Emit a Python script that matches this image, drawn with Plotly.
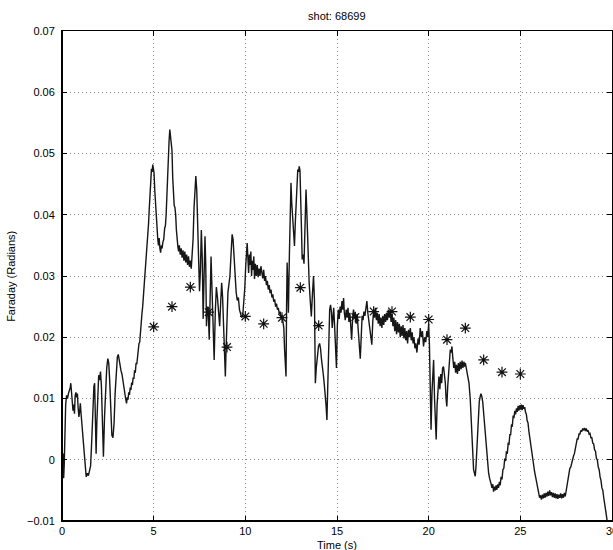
import plotly.graph_objects as go

# Faraday rotation trace, shot 68699
time_s = [
    0.00, 0.03, 0.06, 0.09, 0.12, 0.15, 0.20, 0.25, 0.30, 0.35, 0.40, 0.45, 0.48, 0.52, 0.56, 0.60,
    0.64, 0.68, 0.72, 0.76, 0.80, 0.84, 0.88, 0.92, 0.96, 1.00, 1.04, 1.08, 1.15, 1.22, 1.28, 1.32,
    1.38, 1.44, 1.50, 1.56, 1.62, 1.68, 1.74, 1.78, 1.82, 1.86, 1.90, 1.95, 2.00, 2.05, 2.10, 2.15,
    2.20, 2.26, 2.32, 2.38, 2.44, 2.50, 2.55, 2.60, 2.66, 2.72, 2.78, 2.84, 2.90, 2.96, 3.02, 3.07,
    3.12, 3.17, 3.22, 3.27, 3.32, 3.37, 3.42, 3.47, 3.52, 3.56, 3.60, 3.64, 3.68, 3.72, 3.76, 3.80,
    3.84, 3.88, 3.92, 3.96, 4.00, 4.04, 4.08, 4.12, 4.16, 4.20, 4.24, 4.28, 4.32, 4.36, 4.40, 4.44,
    4.48, 4.52, 4.56, 4.60, 4.64, 4.68, 4.72, 4.76, 4.80, 4.84,
    4.88, 4.92, 4.95, 4.98, 5.02, 5.06, 5.10, 5.14, 5.18, 5.22, 5.26, 5.30, 5.34, 5.38, 5.42, 5.46,
    5.50, 5.55, 5.60, 5.64, 5.68, 5.72, 5.76, 5.80, 5.84, 5.88, 5.92, 5.96, 6.00, 6.04, 6.08, 6.12,
    6.16, 6.20, 6.24, 6.28, 6.32, 6.36, 6.40, 6.45, 6.50, 6.55, 6.60, 6.65, 6.70, 6.75, 6.80, 6.85,
    6.90, 6.95, 7.00, 7.05, 7.10, 7.15, 7.20, 7.25, 7.30, 7.35, 7.40, 7.45, 7.50, 7.55, 7.60, 7.65,
    7.70, 7.75, 7.80, 7.84, 7.88, 7.93, 7.98, 8.03, 8.08, 8.13, 8.18, 8.24, 8.30, 8.36, 8.42, 8.48,
    8.55, 8.60, 8.66, 8.71, 8.76, 8.82, 8.87, 8.91, 8.95, 9.00, 9.05, 9.10, 9.16, 9.22, 9.28, 9.33,
    9.38, 9.44, 9.50, 9.56, 9.62, 9.68, 9.74, 9.80, 9.86, 9.92, 9.97, 10.02, 10.06, 10.10, 10.14, 10.18,
    10.22, 10.26, 10.30, 10.34, 10.38, 10.42, 10.46, 10.50, 10.55, 10.60, 10.65, 10.70, 10.75, 10.80, 10.85, 10.90,
    10.95, 11.00, 11.05, 11.10, 11.15, 11.20, 11.25, 11.30, 11.35, 11.40, 11.45, 11.50, 11.55, 11.60, 11.65, 11.70,
    11.75, 11.80, 11.85, 11.90, 11.95, 12.00, 12.05, 12.10, 12.14, 12.18, 12.22, 12.25, 12.28, 12.32, 12.35, 12.40,
    12.45, 12.49, 12.53, 12.57, 12.62, 12.68, 12.73, 12.78, 12.82, 12.86, 12.90, 12.94, 12.98, 13.02, 13.06, 13.10,
    13.15, 13.20, 13.26, 13.31, 13.36, 13.42, 13.48, 13.54, 13.60, 13.66, 13.72, 13.77, 13.82, 13.87, 13.93, 13.99,
    14.05, 14.10, 14.15, 14.20, 14.25, 14.30, 14.35, 14.40, 14.45, 14.50, 14.55, 14.60, 14.65, 14.70, 14.74, 14.78,
    14.82, 14.86, 14.92, 14.97, 15.02, 15.07, 15.12, 15.17, 15.22, 15.27, 15.32, 15.36, 15.40, 15.45, 15.50, 15.55,
    15.60, 15.65, 15.70, 15.75, 15.80, 15.85, 15.90, 15.95, 16.00, 16.05, 16.10, 16.15, 16.20, 16.27, 16.32, 16.37,
    16.42, 16.47, 16.52, 16.58, 16.63, 16.68, 16.73, 16.78, 16.84, 16.90, 16.95, 17.00, 17.05, 17.10, 17.15, 17.20,
    17.25, 17.30, 17.35, 17.40, 17.45, 17.50, 17.55, 17.60, 17.65, 17.70, 17.75, 17.80, 17.85, 17.90, 17.95, 18.00,
    18.05, 18.10, 18.15, 18.20, 18.25, 18.30, 18.35, 18.40, 18.45, 18.50, 18.55, 18.60, 18.65, 18.70, 18.75, 18.80,
    18.85, 18.90, 18.95, 19.00, 19.05, 19.10, 19.15, 19.20, 19.25, 19.30, 19.36, 19.42, 19.48, 19.54, 19.60, 19.66,
    19.72, 19.78, 19.84, 19.90, 19.95, 20.00, 20.04, 20.08, 20.13, 20.18, 20.23, 20.27, 20.32, 20.37, 20.41, 20.46,
    20.51, 20.56, 20.61, 20.66, 20.71, 20.76, 20.81, 20.86, 20.91, 20.95, 20.99, 21.04, 21.09, 21.14, 21.18, 21.23,
    21.27, 21.32, 21.37, 21.42, 21.47, 21.52, 21.57, 21.62, 21.67, 21.72, 21.77, 21.82, 21.87, 21.92, 21.97, 22.00,
    22.05, 22.10, 22.15, 22.20,
    22.27, 22.32, 22.36, 22.41, 22.45, 22.50, 22.54, 22.58, 22.63, 22.67, 22.72, 22.76, 22.81, 22.85, 22.90, 22.95,
    23.00, 23.05, 23.09, 23.14, 23.18, 23.23, 23.27, 23.32, 23.36, 23.41, 23.45, 23.50, 23.54, 23.59, 23.63, 23.68,
    23.72, 23.77, 23.81, 23.86, 23.90, 23.95, 24.00, 24.05, 24.10, 24.15, 24.20, 24.24, 24.29, 24.34, 24.38, 24.43,
    24.47, 24.52, 24.56, 24.61, 24.65, 24.70, 24.74, 24.79, 24.83, 24.88, 24.92, 24.97, 25.01, 25.06, 25.10, 25.15,
    25.19, 25.24, 25.28, 25.33, 25.37, 25.42, 25.46, 25.51, 25.55, 25.60, 25.64, 25.69, 25.73, 25.78, 25.82, 25.87,
    25.91, 25.96, 26.00, 26.05, 26.10, 26.15, 26.20, 26.25, 26.30, 26.35, 26.40, 26.45, 26.50, 26.55, 26.60, 26.65,
    26.70, 26.75, 26.80, 26.85, 26.90, 26.95, 27.00, 27.05, 27.10, 27.15, 27.20, 27.25, 27.30, 27.35, 27.40, 27.45,
    27.50, 27.55, 27.60, 27.65, 27.70, 27.75, 27.80, 27.85, 27.90, 27.95, 28.00, 28.05, 28.10, 28.15, 28.20, 28.25,
    28.30, 28.35, 28.40, 28.45, 28.50, 28.55, 28.60, 28.65, 28.70, 28.75, 28.80, 28.85, 28.90, 28.95, 29.00, 29.05,
    29.10, 29.15, 29.20, 29.25, 29.30, 29.35, 29.40, 29.45, 29.50, 29.55, 29.60, 29.65, 29.70, 29.75, 29.80, 29.90,
    30.00,
]

faraday_rad = [
    0.0000, -0.0020, 0.0010, -0.0030, -0.0010, 0.0040, 0.0090, 0.0105, 0.0100, 0.0108, 0.0112, 0.0118, 0.0125, 0.0112, 0.0105, 0.0080,
    0.0090, 0.0075, 0.0105, 0.0110, 0.0102, 0.0108, 0.0085, 0.0070, 0.0078, 0.0092, 0.0075, 0.0060, 0.0030, 0.0005, -0.0020, -0.0028,
    -0.0022, -0.0026, -0.0018, -0.0010, 0.0030, 0.0085, 0.0120, 0.0125, 0.0080, 0.0010, 0.0060, 0.0110, 0.0138, 0.0130, 0.0144, 0.0120,
    0.0060, 0.0005, 0.0070, 0.0120, 0.0150, 0.0165, 0.0158, 0.0130, 0.0080, 0.0040, 0.0036, 0.0060, 0.0110, 0.0150, 0.0168, 0.0172,
    0.0160, 0.0155, 0.0145, 0.0140, 0.0128, 0.0118, 0.0105, 0.0100, 0.0092, 0.0102, 0.0098, 0.0110, 0.0106, 0.0118, 0.0114, 0.0126,
    0.0122, 0.0134, 0.0132, 0.0146, 0.0142, 0.0158, 0.0156, 0.0172, 0.0172, 0.0190, 0.0192, 0.0212, 0.0220, 0.0238, 0.0250, 0.0266,
    0.0278, 0.0295, 0.0306, 0.0328, 0.0345, 0.0362, 0.0385, 0.0410, 0.0440, 0.0452,
    0.0475, 0.0470, 0.0482, 0.0476, 0.0468, 0.0440, 0.0415, 0.0395, 0.0375, 0.0362, 0.0350, 0.0362, 0.0345, 0.0338, 0.0350, 0.0345,
    0.0355, 0.0360, 0.0378, 0.0382, 0.0400, 0.0440, 0.0475, 0.0500, 0.0520, 0.0539, 0.0530, 0.0520, 0.0505, 0.0460, 0.0420, 0.0415,
    0.0412, 0.0400, 0.0375, 0.0355, 0.0348, 0.0340, 0.0350, 0.0335, 0.0345, 0.0330, 0.0342, 0.0325, 0.0340, 0.0322, 0.0335, 0.0318,
    0.0332, 0.0315, 0.0325, 0.0312, 0.0330, 0.0360, 0.0410, 0.0450, 0.0463, 0.0440, 0.0380, 0.0300, 0.0275, 0.0310, 0.0375, 0.0330,
    0.0230, 0.0300, 0.0365, 0.0320, 0.0218, 0.0250, 0.0240, 0.0196, 0.0270, 0.0332, 0.0280, 0.0210, 0.0163, 0.0240, 0.0282, 0.0265,
    0.0240, 0.0218, 0.0260, 0.0289, 0.0265, 0.0200, 0.0160, 0.0136, 0.0180, 0.0240, 0.0273, 0.0285, 0.0300, 0.0335, 0.0368, 0.0360,
    0.0330, 0.0300, 0.0273, 0.0260, 0.0265, 0.0245, 0.0240, 0.0232, 0.0236, 0.0255, 0.0280, 0.0316, 0.0345, 0.0354, 0.0330, 0.0305,
    0.0335, 0.0318, 0.0340, 0.0300, 0.0325, 0.0310, 0.0332, 0.0295, 0.0320, 0.0300, 0.0318, 0.0298, 0.0312, 0.0300, 0.0316, 0.0305,
    0.0296, 0.0310, 0.0292, 0.0300, 0.0285, 0.0292, 0.0278, 0.0285, 0.0272, 0.0278, 0.0265, 0.0270, 0.0258, 0.0262, 0.0250, 0.0255,
    0.0245, 0.0248, 0.0238, 0.0242, 0.0232, 0.0236, 0.0225, 0.0215, 0.0180, 0.0140, 0.0136, 0.0250, 0.0322, 0.0280, 0.0240, 0.0330,
    0.0420, 0.0452, 0.0420, 0.0400, 0.0380, 0.0349, 0.0390, 0.0430, 0.0460, 0.0474, 0.0470, 0.0479, 0.0472, 0.0440, 0.0380, 0.0327,
    0.0335, 0.0320, 0.0390, 0.0441, 0.0400, 0.0330, 0.0290, 0.0260, 0.0234, 0.0270, 0.0300, 0.0260, 0.0125, 0.0150, 0.0175, 0.0185,
    0.0190, 0.0182, 0.0165, 0.0155, 0.0140, 0.0125, 0.0110, 0.0090, 0.0065, 0.0140, 0.0200, 0.0245, 0.0253, 0.0240, 0.0215, 0.0232,
    0.0248, 0.0225, 0.0190, 0.0150, 0.0220, 0.0245, 0.0230, 0.0250, 0.0240, 0.0259, 0.0245, 0.0264, 0.0240, 0.0228, 0.0245, 0.0232,
    0.0248, 0.0225, 0.0240, 0.0210, 0.0196, 0.0230, 0.0245, 0.0232, 0.0240, 0.0222, 0.0238, 0.0215, 0.0190, 0.0165, 0.0200, 0.0235,
    0.0228, 0.0242, 0.0235, 0.0250, 0.0259, 0.0240, 0.0230, 0.0215, 0.0200, 0.0188, 0.0225, 0.0245, 0.0232, 0.0248, 0.0228, 0.0240,
    0.0222, 0.0238, 0.0218, 0.0232, 0.0215, 0.0235, 0.0220, 0.0238, 0.0225, 0.0240, 0.0228, 0.0245, 0.0232, 0.0245, 0.0225, 0.0238,
    0.0218, 0.0232, 0.0210, 0.0228, 0.0205, 0.0225, 0.0208, 0.0222, 0.0200, 0.0218, 0.0202, 0.0220, 0.0198, 0.0215, 0.0195, 0.0210,
    0.0190, 0.0212, 0.0200, 0.0215, 0.0195, 0.0208, 0.0190, 0.0200, 0.0182, 0.0190, 0.0175, 0.0198, 0.0188, 0.0215, 0.0200, 0.0210,
    0.0185, 0.0200, 0.0192, 0.0210, 0.0200, 0.0222, 0.0190, 0.0120, 0.0049, 0.0110, 0.0150, 0.0163, 0.0100, 0.0060, 0.0033, 0.0090,
    0.0125, 0.0136, 0.0115, 0.0140, 0.0125, 0.0150, 0.0152, 0.0138, 0.0125, 0.0100, 0.0087, 0.0120, 0.0150, 0.0170, 0.0180, 0.0175,
    0.0185, 0.0165, 0.0150, 0.0160, 0.0142, 0.0155, 0.0140, 0.0158, 0.0145, 0.0160, 0.0148, 0.0162, 0.0150, 0.0160, 0.0152, 0.0158,
    0.0150, 0.0145, 0.0138, 0.0125,
    0.0098, 0.0060, 0.0033, 0.0008, -0.0016, -0.0022, -0.0027, -0.0012, 0.0016, 0.0050, 0.0082, 0.0095, 0.0103, 0.0108, 0.0103, 0.0094,
    0.0076, 0.0058, 0.0033, 0.0018, 0.0000, -0.0008, -0.0022, -0.0030, -0.0038, -0.0040, -0.0046, -0.0040, -0.0052, -0.0044, -0.0050, -0.0042,
    -0.0049, -0.0040, -0.0046, -0.0036, -0.0042, -0.0028, -0.0032, -0.0016, -0.0014, 0.0002, -0.0002, 0.0014, 0.0010, 0.0028, 0.0024, 0.0042,
    0.0040, 0.0058, 0.0054, 0.0072, 0.0068, 0.0080, 0.0074, 0.0084, 0.0078, 0.0088, 0.0080, 0.0089, 0.0082, 0.0090, 0.0081, 0.0089,
    0.0083, 0.0086, 0.0078, 0.0074, 0.0064, 0.0060, 0.0048, 0.0036, 0.0026, 0.0016, 0.0008, -0.0004, -0.0010, -0.0020, -0.0026, -0.0036,
    -0.0042, -0.0052, -0.0054, -0.0062, -0.0058, -0.0065, -0.0057, -0.0063, -0.0055, -0.0062, -0.0054, -0.0060, -0.0052, -0.0059, -0.0050, -0.0058,
    -0.0053, -0.0061, -0.0054, -0.0062, -0.0055, -0.0063, -0.0056, -0.0064, -0.0057, -0.0062, -0.0055, -0.0063, -0.0056, -0.0062, -0.0054, -0.0060,
    -0.0050, -0.0042, -0.0032, -0.0026, -0.0014, -0.0012, -0.0004, -0.0002, 0.0006, 0.0010, 0.0020, 0.0024, 0.0034, 0.0034, 0.0042, 0.0042,
    0.0048, 0.0046, 0.0051, 0.0048, 0.0052, 0.0047, 0.0051, 0.0046, 0.0048, 0.0042, 0.0043, 0.0036, 0.0036, 0.0027, 0.0026, 0.0016,
    0.0014, 0.0002, 0.0000, -0.0012, -0.0016, -0.0028, -0.0034, -0.0046, -0.0050, -0.0062, -0.0070, -0.0082, -0.0092, -0.0104, -0.0115, -0.0130,
    -0.0140,
]

# Reference measurements (asterisks), once a second from 5 s to 25 s
star_t = [5, 6, 7, 8, 9, 10, 11, 12, 13, 14, 16, 17, 18, 19, 20, 21, 22, 23, 24, 25]
star_v = [0.0217, 0.0250, 0.0282, 0.0241, 0.0184, 0.0234, 0.0222, 0.0232, 0.0281, 0.0219,
          0.0233, 0.0242, 0.0242, 0.0233, 0.0229, 0.0196, 0.0215, 0.0163, 0.0143, 0.0140]

x_ticks = [0, 5, 10, 15, 20, 25, 30]
x_tick_text = ["0", "5", "10", "15", "20", "25", "30"]
y_ticks = [-0.01, 0.0, 0.01, 0.02, 0.03, 0.04, 0.05, 0.06, 0.07]
y_tick_text = ["\u22120.01", "0", "0.01", "0.02", "0.03", "0.04", "0.05", "0.06", "0.07"]

FONT = "Liberation Sans, Arial, Helvetica, sans-serif"

fig = go.Figure()
fig.add_trace(go.Scatter(
    x=time_s, y=faraday_rad, mode="lines",
    line=dict(color="#161616", width=1.4),
    showlegend=False, hoverinfo="skip",
))
fig.add_trace(go.Scatter(
    x=star_t, y=star_v, mode="markers",
    marker=dict(symbol="asterisk-open", size=9, color="#111",
                line=dict(color="#111", width=1.2)),
    showlegend=False,
))

axis_common = dict(
    showline=True, linecolor="black", linewidth=1, mirror="ticks",
    ticks="inside", ticklen=5, tickwidth=1, tickcolor="black",
    showgrid=True, gridcolor="#8c8c8c", griddash="1px,3px", gridwidth=1,
    zeroline=False, tickfont=dict(family=FONT, size=11, color="black"),
    automargin=False,
)

fig.update_xaxes(range=[0, 30], tickvals=x_ticks, ticktext=x_tick_text,
                 ticklabeloverflow="allow", **axis_common)
fig.update_yaxes(range=[-0.01, 0.07], tickvals=y_ticks, ticktext=y_tick_text,
                 ticklabelstandoff=4, **axis_common)

# heavier left and bottom spines
fig.add_shape(type="line", xref="paper", yref="paper", x0=0, x1=0, y0=0, y1=1,
              line=dict(color="black", width=2), layer="above")
fig.add_shape(type="line", xref="paper", yref="paper", x0=0, x1=1, y0=0, y1=0,
              line=dict(color="black", width=2), layer="above")

fig.add_annotation(text="Time (s)", xref="paper", yref="paper", x=0.5, y=-0.049,
                   showarrow=False, xanchor="center", yanchor="middle",
                   font=dict(family=FONT, size=11, color="black"))
fig.add_annotation(text="Faraday (Radians)", xref="paper", yref="paper", x=-0.093, y=0.5,
                   showarrow=False, textangle=-90, xanchor="center", yanchor="middle",
                   font=dict(family=FONT, size=11, color="black"))

fig.update_layout(
    width=613, height=550,
    margin=dict(l=62, r=1, t=31, b=29),
    paper_bgcolor="white", plot_bgcolor="white",
    title=dict(text="shot: 68699", x=0.5495, xanchor="center", y=1 - 16 / 550, yanchor="middle",
               font=dict(family=FONT, size=11, color="black")),
)

fig.write_html("out.html")
